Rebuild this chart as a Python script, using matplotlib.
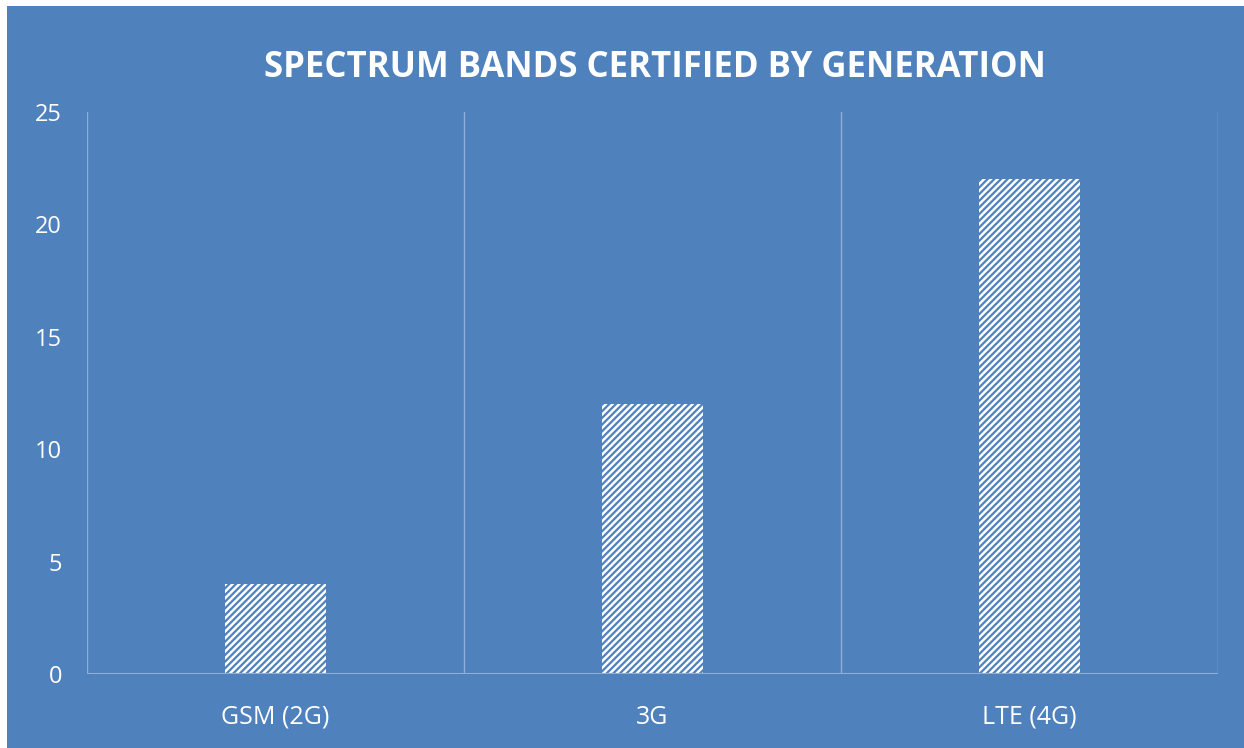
import matplotlib
matplotlib.use("Agg")
import matplotlib.pyplot as plt
from matplotlib.patches import Rectangle

categories = ["GSM (2G)", "3G", "LTE (4G)"]
bands = [4, 12, 22]
yticks = [0, 5, 10, 15, 20, 25]

bg = "#4f81bd"
grid = "#8eaedb"

plt.rcParams["font.family"] = ["Open Sans", "DejaVu Sans"]
plt.rcParams["hatch.linewidth"] = 1.6

fig = plt.figure(figsize=(12.44, 7.48), dpi=100, facecolor="white")
# blue chart area, small white strip at left / top
fig.patches.append(Rectangle((7 / 1244, 0), 1 - 7 / 1244, 1 - 6 / 748,
                             transform=fig.transFigure, facecolor=bg,
                             edgecolor="none", zorder=-5))

ax = fig.add_axes([87 / 1244, 1 - 674 / 748, (1218 - 87) / 1244, (674 - 112) / 748])
ax.set_facecolor("none")

x = list(range(len(categories)))
ax.bar(x, bands, width=0.27, facecolor="white", edgecolor=bg,
       hatch="/////", linewidth=0, zorder=3)

ax.set_xlim(-0.5, len(categories) - 0.5)
ax.set_ylim(0, 25)
ax.set_yticks(yticks)
ax.set_xticks(x)
ax.set_xticklabels(categories)

# vertical separators between categories
for b in [-0.5, 0.5, 1.5, 2.5]:
    ax.axvline(b, color=grid, lw=1, zorder=1)
ax.axhline(0, color=grid, lw=1.5, zorder=4)

for s in ax.spines.values():
    s.set_visible(False)
ax.tick_params(length=0, colors="white", labelsize=17)
ax.tick_params(axis="y", pad=18)
ax.tick_params(axis="x", pad=22, labelsize=18)

fig.text(655 / 1244, 1 - 68 / 748, "SPECTRUM BANDS CERTIFIED BY GENERATION",
         color="white", fontsize=25, fontweight="bold", ha="center", va="center")

fig.savefig("out.png", dpi=100, facecolor="white")
